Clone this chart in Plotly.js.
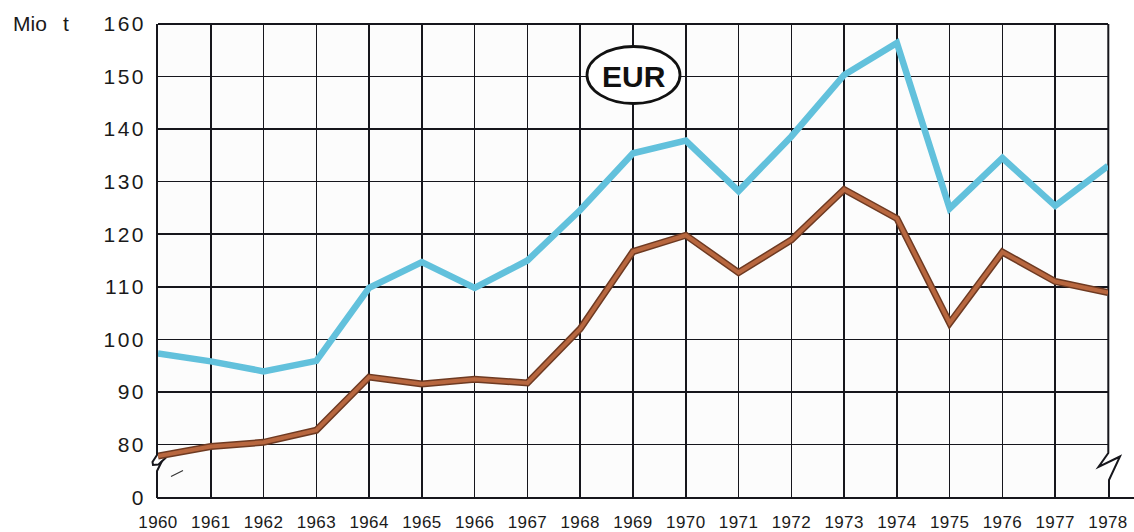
<!DOCTYPE html>
<html>
<head>
<meta charset="utf-8">
<script src="https://cdn.plot.ly/plotly-3.0.1.min.js"></script>
<style>
  html, body { margin: 0; padding: 0; background: #ffffff; }
  #chart { width: 1134px; height: 532px; }
  .ytick text { letter-spacing: 2.5px; }
  .xtick text { letter-spacing: 0.4px; }
</style>
</head>
<body>
<div id="chart"></div>
<script>
// ---- data ----
const years = [1960,1961,1962,1963,1964,1965,1966,1967,1968,1969,1970,1971,1972,1973,1974,1975,1976,1977,1978];
const seriesBlue  = [97.3, 95.8, 93.9, 95.9, 109.8, 114.7, 109.8, 115.0, 124.6, 135.4, 137.8, 128.2, 138.6, 150.3, 156.4, 124.9, 134.5, 125.4, 133.0];
const seriesBrown = [77.8, 79.6, 80.4, 82.7, 92.8, 91.5, 92.4, 91.7, 102.0, 116.7, 119.8, 112.7, 118.9, 128.5, 123.0, 103.1, 116.6, 111.0, 108.9];
const yTickVals = [69.8, 80, 90, 100, 110, 120, 130, 140, 150, 160];
const yTickText = ['0', '80', '90', '100', '110', '120', '130', '140', '150', '160'];
const xTickText = years.map(String);
const innerYears = years.slice(1, -1);

// ---- geometry helpers (pixel -> paper) ----
const L = 158, T = 24, W = 950, H = 474;
const px = x => (x - L) / W;
const py = y => (T + H - y) / H;
const path = pts => pts.map((p, i) => (i ? 'L' : 'M') + px(p[0]).toFixed(5) + ',' + py(p[1]).toFixed(5)).join(' ');

const ink = '#16161c';
const txt = '#1a1a1a';
const fam = 'Liberation Sans, Arial, sans-serif';

const traces = [
  { x: years, y: seriesBlue, mode: 'lines', line: { color: '#62c1dc', width: 6.5 }, hoverinfo: 'skip' },
  { x: years, y: seriesBrown, mode: 'lines', line: { color: '#6e3a22', width: 7 }, hoverinfo: 'skip' },
  { x: years, y: seriesBrown, mode: 'lines', line: { color: '#b8673f', width: 4 }, hoverinfo: 'skip' }
];

const shapes = [
  { type: 'line', xref: 'paper', yref: 'paper', x0: 0, x1: 1, y0: 1, y1: 1, line: { color: ink, width: 2 }, layer: 'below' },
  { type: 'line', xref: 'paper', yref: 'paper', x0: px(157), x1: px(1134), y0: 0, y1: 0, line: { color: ink, width: 2 }, layer: 'below' },
  { type: 'path', xref: 'paper', yref: 'paper', path: path([[157, 24], [157, 455], [152.5, 462], [153, 465], [158.5, 464.5], [166, 457.5]]), line: { color: ink, width: 2 }, layer: 'below' },
  { type: 'path', xref: 'paper', yref: 'paper', path: path([[162, 461], [157, 471], [157, 498]]), line: { color: ink, width: 2 }, layer: 'below' },
  { type: 'line', xref: 'paper', yref: 'paper', x0: px(171), y0: py(476.5), x1: px(183), y1: py(470.5), line: { color: '#333', width: 1.2 }, layer: 'below' },
  { type: 'path', xref: 'paper', yref: 'paper', path: path([[1108.3, 24], [1108.3, 453], [1098.5, 467], [1120, 456.5], [1109, 480], [1109, 498]]), line: { color: ink, width: 2 }, layer: 'below' },
  { type: 'circle', xref: 'paper', yref: 'paper', x0: px(587), x1: px(680), y0: py(103.5), y1: py(46.5), fillcolor: '#ffffff', line: { color: '#111', width: 2.8 }, layer: 'above' }
];

const annotations = [
  { xref: 'paper', yref: 'paper', x: px(634), y: py(76), text: '<b>EUR</b>', showarrow: false, xanchor: 'center', yanchor: 'middle',
    font: { family: fam, size: 30, color: '#111' } },
  { xref: 'paper', yref: 'paper', x: px(11), y: py(23.5), text: 'Mio', showarrow: false, xanchor: 'left', yanchor: 'middle',
    font: { family: fam, size: 21, color: txt } },
  { xref: 'paper', yref: 'paper', x: px(61), y: py(23.5), text: 't', showarrow: false, xanchor: 'left', yanchor: 'middle',
    font: { family: fam, size: 21, color: txt } }
];

const layout = {
  width: 1134, height: 532,
  margin: { l: L, r: 1134 - L - W, t: T, b: 532 - T - H, pad: 0 },
  paper_bgcolor: '#ffffff',
  plot_bgcolor: '#fcfcfc',
  showlegend: false,
  xaxis: {
    range: [1960, 1978],
    tickmode: 'array', tickvals: years, ticktext: xTickText,
    showgrid: false, zeroline: false, showline: false,
    ticks: '', ticklabelstandoff: 12,
    tickfont: { family: fam, size: 17, color: txt },
    minor: { tickmode: 'array', tickvals: innerYears, showgrid: true, gridcolor: ink, gridwidth: 1.5, ticks: '' }
  },
  yaxis: {
    range: [69.8, 160],
    tickmode: 'array', tickvals: yTickVals, ticktext: yTickText,
    showgrid: true, gridcolor: ink, gridwidth: 1.5,
    zeroline: false, showline: false,
    ticks: '', ticklabelstandoff: 11,
    tickfont: { family: fam, size: 21, color: txt }
  },
  shapes: shapes,
  annotations: annotations
};

Plotly.newPlot('chart', traces, layout, { staticPlot: true, displayModeBar: false });
</script>
</body>
</html>
